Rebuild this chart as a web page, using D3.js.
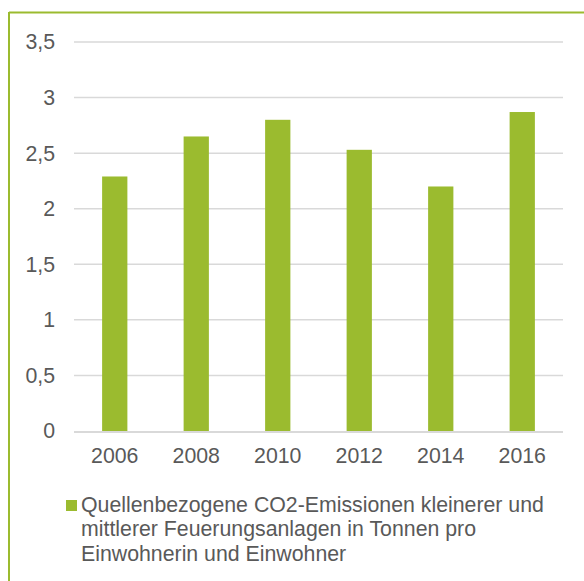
<!DOCTYPE html>
<html><head><meta charset="utf-8">
<script src="https://cdn.jsdelivr.net/npm/d3@7"></script>
<style>body{margin:0;background:#fff;}svg{display:block;font-family:"Liberation Sans",Arial,sans-serif;}</style>
</head><body><svg id="c" width="584" height="581"></svg>
<script>
const years = ["2006","2008","2010","2012","2014","2016"];
const values = [2.29, 2.65, 2.80, 2.53, 2.20, 2.87];
const yTicks = [0, 0.5, 1, 1.5, 2, 2.5, 3, 3.5];
const legendLines = ["Quellenbezogene CO2-Emissionen kleinerer und", "mittlerer Feuerungsanlagen in Tonnen pro", "Einwohnerin und Einwohner"];

const green = "#9BBB2F", textCol = "#595959";
const svg = d3.select("#c");
// frame
svg.append("line").attr("x1",9).attr("x2",584).attr("y1",12.5).attr("y2",12.5).attr("stroke",green).attr("stroke-width",2);
svg.append("line").attr("x1",9).attr("x2",9).attr("y1",12).attr("y2",581).attr("stroke",green).attr("stroke-width",2);

const x = d3.scaleBand().domain(years).range([74,563]).paddingInner(0.69).paddingOuter(0.345);
const y = d3.scaleLinear().domain([0,3.5]).range([431,42]);

const fmt = d => d3.format(".1~f")(d).replace(".", ",");
// grid
svg.append("g").selectAll("line").data(yTicks.filter(d=>d>0)).join("line")
  .attr("x1",74).attr("x2",563).attr("y1",d=>y(d)).attr("y2",d=>y(d))
  .attr("stroke","#d9d9d9").attr("stroke-width",1.5);
// y labels
svg.append("g").selectAll("text").data(yTicks).join("text")
  .attr("x",55).attr("y",d=>y(d)).attr("dy","0.35em").attr("text-anchor","end")
  .attr("font-size",21.3).attr("fill",textCol).text(fmt);
// bars
svg.append("g").selectAll("rect").data(values).join("rect")
  .attr("x",(d,i)=>x(years[i])).attr("width",x.bandwidth())
  .attr("y",d=>y(d)).attr("height",d=>y(0)-y(d)).attr("fill",green);
// baseline
svg.append("line").attr("x1",74).attr("x2",563).attr("y1",y(0)+1).attr("y2",y(0)+1).attr("stroke","#d9d9d9").attr("stroke-width",2);
// x labels
svg.append("g").selectAll("text").data(years).join("text")
  .attr("x",d=>x(d)+x.bandwidth()/2).attr("y",463).attr("text-anchor","middle")
  .attr("font-size",21.3).attr("fill",textCol).text(d=>d);
// legend
svg.append("rect").attr("x",66).attr("y",500).attr("width",11).attr("height",11).attr("fill",green);
svg.append("g").selectAll("text").data(legendLines).join("text")
  .attr("x",81).attr("y",(d,i)=>512+i*24.3).attr("font-size",21.3).attr("fill",textCol).text(d=>d);
</script></body></html>
